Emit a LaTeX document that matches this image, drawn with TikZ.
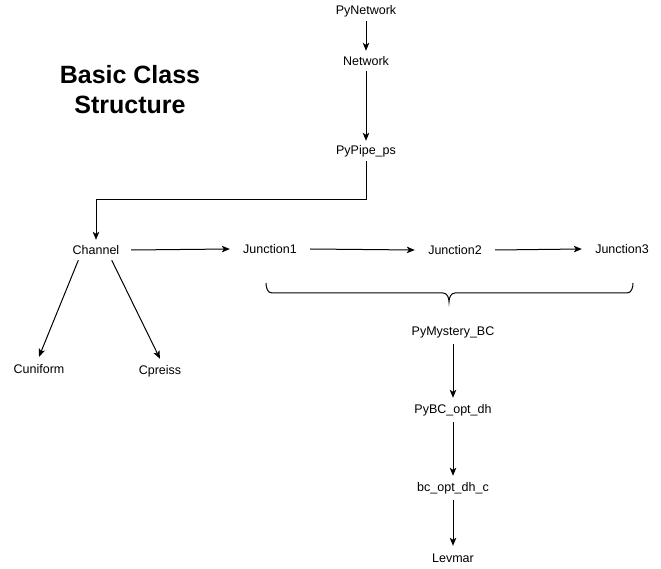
\documentclass[tikz,border=0pt]{standalone}
\usepackage{fontspec}
\setmainfont{Liberation Sans}
\usetikzlibrary{arrows.meta}
\tikzset{
  cls/.style={inner sep=0pt, minimum height=20pt, font=\fontsize{12.5}{15}\selectfont},
  low/.style={cls, minimum height=24pt},
  junc/.style={cls, minimum width=80pt},
  arr/.style={line width=1pt, -{Stealth[length=8pt,width=6.5pt,inset=2pt]}}
}
\begin{document}
\begin{tikzpicture}[x=1pt,y=1pt]
		%%%%% START %%%%%
		\useasboundingbox (0,0) rectangle (661,-569);
		
		\node[align=center, font=\bfseries\fontsize{25}{30}\selectfont] (title) at (130,-90) {Basic Class\\Structure};
		
		\node[cls] (pynet) at (366,-11) {PyNetwork};
		\node[cls] (net) at (366,-61) {Network};
		\node[cls] (pypipe) at (366,-151) {PyPipe\_ps};
		\draw[arr] (pynet) -- (net);
		\draw[arr] (net) -- (pypipe);
		
		\node[cls, minimum width=70pt] (chan) at (96,-250) {Channel};
		\coordinate (bend) at (366,-200);
		\draw[arr] (pypipe.south) -- (bend) -| (chan.north);
		
		\node[junc] (junc1) at (270,-249) {Junction1};
		\node[junc] (junc2) at (455,-250) {Junction2};
		\node[junc] (junc3) at (622,-249) {Junction3};
		\draw[arr] (chan.east) -- (junc1.west);
		\draw[arr] (junc1.east) -- (junc2.west);
		\draw[arr] (junc2.east) -- (junc3.west);
		
		\node[low] (cuni) at (39,-369) {Cuniform};
		\node[low] (cpre) at (160,-371) {Cpreiss};
		\draw[arr] (chan.210) -- (cuni.north);
		\draw[arr] (chan.-33) -- (cpre.north);
		
		\draw[line width=1pt] (266,-283) to[out=-90,in=180] (272,-293) -- (443,-293) to[out=0,in=90] (449,-302) to[out=90,in=180] (455,-293) -- (627,-293) to[out=0,in=-90] (633,-283);
		
		\node[low] (pymyst) at (453,-332) {PyMystery\_BC};
		\node[low] (pybc) at (453,-410) {PyBC\_opt\_dh};
		\node[low] (bcopt) at (453,-488) {bc\_opt\_dh\_c};
		\node[low] (levmar) at (453,-558) {Levmar};
		\draw[arr] (pymyst) -- (pybc);
		\draw[arr] (pybc) -- (bcopt);
		\draw[arr] (bcopt) -- (levmar);
		
		%%%%% END %%%%%
	\end{tikzpicture}
\end{document}
